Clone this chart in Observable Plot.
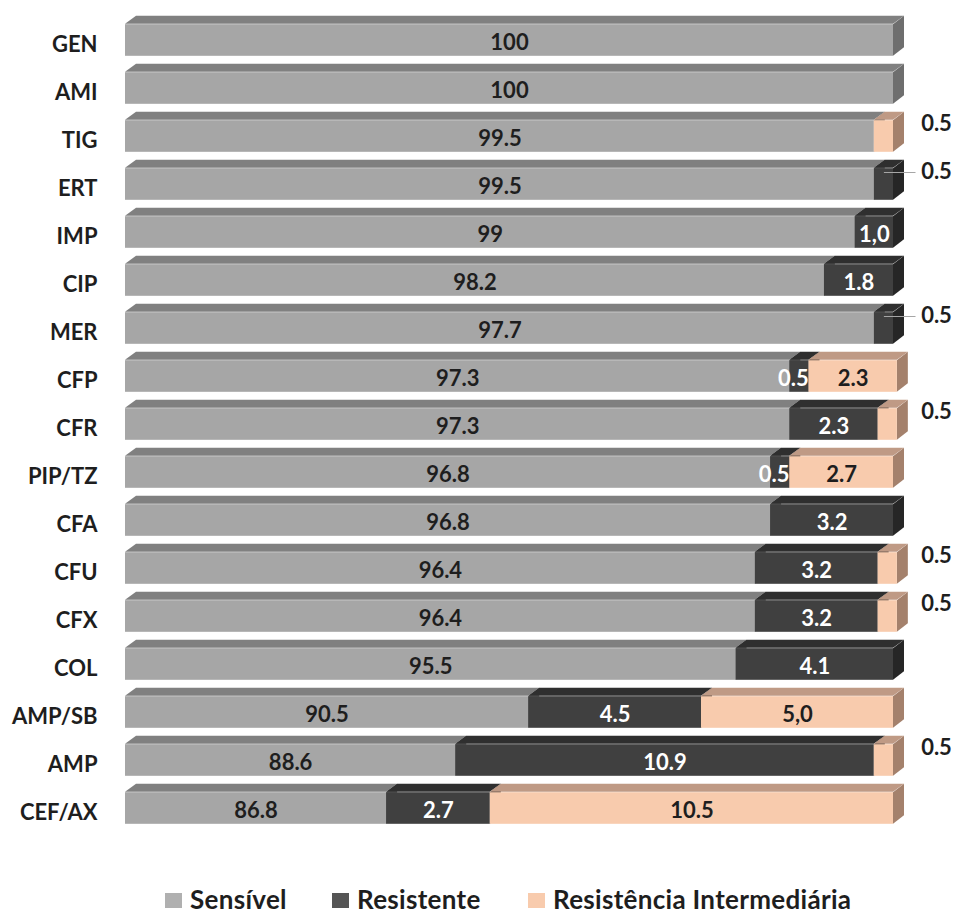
<!DOCTYPE html>
<html><head><meta charset="utf-8">
<script src="https://cdn.jsdelivr.net/npm/d3@7"></script>
<script src="https://cdn.jsdelivr.net/npm/@observablehq/plot@0.6"></script>
<style>
body{margin:0;background:#fff;overflow:hidden;font-family:Lato,"Open Sans",sans-serif;position:relative;width:960px;height:916px}
#chart svg{display:block}
#legend{position:absolute;left:0;top:884px;width:960px;height:30px;font-weight:bold;font-size:26px;line-height:30px;color:#1e1e1e}
.item{position:absolute;top:0;height:30px;white-space:nowrap}
.sw{position:absolute;left:0;top:9px;width:17px;height:15px}
.lt{position:absolute;left:25px;top:0;letter-spacing:0.3px}
</style></head><body><div id="chart"></div><div id="legend"></div>
<script>
const categories = ["GEN","AMI","TIG","ERT","IMP","CIP","MER","CFP","CFR","PIP/TZ","CFA","CFU","CFX","COL","AMP/SB","AMP","CEF/AX"];
const sensivel      = [100,100,99.5,99.5,99,98.2,99.5,97.3,97.3,96.8,96.8,96.4,96.4,95.9,90.5,88.6,86.8];
const resistente    = [0,0,0,0.5,1.0,1.8,0.5,0.5,2.3,0.5,3.2,3.2,3.2,4.1,4.5,10.9,2.7];
const intermediaria = [0,0,0.5,0,0,0,0,2.3,0.5,2.7,0,0.5,0.5,0,5.0,0.5,10.5];
const sensivelLabels      = ["100","100","99.5","99.5","99","98.2","97.7","97.3","97.3","96.8","96.8","96.4","96.4","95.5","90.5","88.6","86.8"];
const resistenteLabels    = ["","","","0.5","1,0","1.8","0.5","0.5","2.3","0.5","3.2","3.2","3.2","4.1","4.5","10.9","2.7"];
const intermediariaLabels = ["","","0.5","","","","","2.3","0.5","2.7","","0.5","0.5","","5,0","0.5","10.5"];
const series = ["Sensível","Resistente","Resistência Intermediária"];
const axisMin = 80, axisMax = 100;

const frontColors = ["#a6a6a6","#404040","#f8cbad"];
const topColors   = ["#808080","#2f2f2f","#bf9a85"];
const sideColors  = ["#6e6e6e","#262626","#a4816c"];
const textColors  = ["#1e1e1e","#ffffff","#1e1e1e"];
const legendColors = ["#b0b0b0","#555555","#f8cbad"];
const legendLeft = [165, 332, 528];

const DX = 11, DY = 8.5;           // 3D depth in px
const STEP = 48.4, FRONT_INSET = 8.2;
const W = 960, H = 880, ML = 125, MR = 67, MT = 13;
const MB = H - MT - STEP * categories.length;
const pxPerUnit = (W - ML - MR) / (axisMax - axisMin);

const segs = [];
categories.forEach((c, i) => {
  const vals = [sensivel[i], resistente[i], intermediaria[i]];
  const labs = [sensivelLabels[i], resistenteLabels[i], intermediariaLabels[i]];
  const nz = vals.map((v, k) => v > 0 ? k : -1).filter(k => k >= 0);
  const last = nz[nz.length - 1];
  let start = 0;
  vals.forEach((v, k) => {
    if (v <= 0) return;
    const x1 = Math.max(axisMin, start), x2 = start + v;
    segs.push({cat: c, k, x1, x2, mid: (x1 + x2) / 2, label: labs[k], last: k === last, small: v < 1});
    start += v;
  });
});
const inside = segs.filter(d => !d.small);
const insideSmall = segs.filter(d => d.small && !d.last);
const outside = segs.filter(d => d.small && d.last);
const leaders = outside.filter(d => d.k === 1);

const chart = Plot.plot({
  width: W, height: H,
  marginLeft: ML, marginRight: MR, marginTop: MT, marginBottom: MB,
  x: {domain: [axisMin, axisMax], axis: null},
  y: {domain: categories, padding: 0, axis: null},
  color: {type: "identity"},
  style: {fontFamily: "Lato, 'Open Sans', sans-serif", overflow: "visible", background: "#fff"},
  marks: [
    Plot.barX(segs, {x1: "x1", x2: "x2", y: "cat", fill: d => sideColors[d.k], insetTop: FRONT_INSET, insetBottom: FRONT_INSET, insetRight: -DX}),
    Plot.barX(segs, {x1: "x1", x2: "x2", y: "cat", fill: d => topColors[d.k], insetTop: FRONT_INSET - DY, insetBottom: STEP - FRONT_INSET}),
    Plot.barX(segs, {x1: "x1", x2: "x2", y: "cat", fill: d => frontColors[d.k], insetTop: FRONT_INSET, insetBottom: FRONT_INSET}),
    Plot.text(categories, {x: axisMin, y: d => d, text: d => d, textAnchor: "end", dx: -28, dy: 4, fontSize: 22, fontWeight: "bold", fill: "#1e1e1e"}),
    Plot.text(inside, {x: "mid", y: "cat", text: "label", fill: d => textColors[d.k], dy: 2, fontSize: 22, fontWeight: "bold"}),
    Plot.text(insideSmall, {x: "mid", y: "cat", text: "label", fill: "#ffffff", dx: -6, dy: 2, fontSize: 22, fontWeight: "bold"}),
    Plot.link(leaders, {x1: "mid", x2: () => axisMax + 22 / pxPerUnit, y1: "cat", y2: "cat", dy: -12, stroke: "#a6a6a6", strokeWidth: 1.2}),
    Plot.text(outside, {x: axisMax, y: "cat", text: "label", dx: 43, dy: -13, fill: "#1e1e1e", fontSize: 22, fontWeight: "bold"})
  ]
});

const barGroups = chart.querySelectorAll(':scope > g[aria-label="bar"]');
const sideG = barGroups[0], topG = barGroups[1];
d3.select(sideG).selectAll("rect").each(function () {
  const r = d3.select(this);
  const w = +r.attr("width"), x = +r.attr("x") + w - DX;
  const ang = Math.atan(-DY / DX) * 180 / Math.PI;
  r.attr("x", x).attr("width", DX);
  r.attr("transform", `translate(${x},0) skewY(${ang}) translate(${-x},0)`);
});
d3.select(topG).selectAll("rect").each(function () {
  const r = d3.select(this);
  const y = +r.attr("y"), h = +r.attr("height");
  const yb = y + h;
  const ang = Math.atan(-DX / h) * 180 / Math.PI;
  r.attr("transform", `translate(0,${yb}) skewX(${ang}) translate(0,${-yb})`);
});
document.getElementById("chart").appendChild(chart);

const legend = d3.select("#legend");
series.forEach((s, k) => {
  const it = legend.append("div").attr("class", "item").style("left", legendLeft[k] + "px");
  it.append("div").attr("class", "sw").style("background", legendColors[k]);
  it.append("span").attr("class", "lt").text(s);
});
</script></body></html>
